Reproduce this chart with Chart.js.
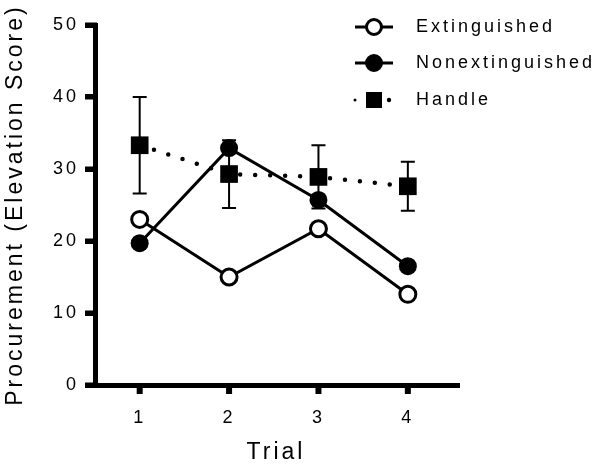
<!DOCTYPE html>
<html>
<head>
<meta charset="utf-8">
<script src="https://cdn.jsdelivr.net/npm/chart.js@4.4.0/dist/chart.umd.min.js"></script>
<style>
  html, body { margin: 0; padding: 0; background: #fff; }
  #wrap { width: 604px; height: 468px; }
</style>
</head>
<body>
<div id="wrap"><canvas id="chart" width="604" height="468"></canvas></div>
<script>
const trials = [1, 2, 3, 4];
const seriesNames = ["Extinguished", "Nonextinguished", "Handle"];
const extinguished = [23.0, 15.0, 21.7, 12.6];
const nonextinguished = [19.7, 32.9, 25.7, 16.5];
const handle = [33.3, 29.3, 28.9, 27.6];
const handleErr = [6.7, 4.7, 4.4, 3.4];
const yTicks = [0, 10, 20, 30, 40, 50];

const FONT = "'Liberation Sans', Arial, sans-serif";

// canvas letter spacing, the original text is spread out
const spacing = {
    id: 'spacing',
    beforeUpdate(chart) { chart.ctx.letterSpacing = '3px'; },
    beforeDraw(chart) { chart.ctx.letterSpacing = '3px'; }
};

// heavy tick marks like the original (grid ticks come out thin)
const tickMarks = {
    id: 'tickMarks',
    afterDraw(chart) {
        const ctx = chart.ctx;
        const x = chart.scales.x, y = chart.scales.y;
        const area = chart.chartArea;
        ctx.save();
        ctx.fillStyle = '#000';
        yTicks.forEach(v => {
            const py = y.getPixelForValue(v);
            ctx.fillRect(area.left - 10, py - 2.5, 12, 5);
        });
        trials.forEach(v => {
            const px = x.getPixelForValue(v);
            ctx.fillRect(px - 3, area.bottom, 6, 9);
        });
        ctx.restore();
    }
};

const errorBars = {
    id: 'errorBars',
    afterDatasetsDraw(chart) {
        const ctx = chart.ctx;
        const x = chart.scales.x, y = chart.scales.y;
        ctx.save();
        ctx.strokeStyle = '#000';
        ctx.lineWidth = 2;
        trials.forEach((t, i) => {
            const px = x.getPixelForValue(t);
            const top = y.getPixelForValue(handle[i] + handleErr[i]);
            const bot = y.getPixelForValue(handle[i] - handleErr[i]);
            ctx.beginPath();
            ctx.moveTo(px, top); ctx.lineTo(px, bot);
            ctx.moveTo(px - 7, top); ctx.lineTo(px + 7, top);
            ctx.moveTo(px - 7, bot); ctx.lineTo(px + 7, bot);
            ctx.stroke();
        });
        ctx.restore();
    }
};

const legendBox = {
    id: 'legendBox',
    afterDraw(chart) {
        const ctx = chart.ctx;
        ctx.save();
        ctx.letterSpacing = '3px';
        ctx.font = '18px ' + FONT;
        ctx.fillStyle = '#000';
        ctx.strokeStyle = '#000';
        ctx.textBaseline = 'middle';
        const rows = [27, 63, 100];
        seriesNames.forEach((name, i) => {
            const yy = rows[i];
            if (i < 2) {
                ctx.lineWidth = 3;
                ctx.beginPath(); ctx.moveTo(355, yy); ctx.lineTo(393, yy); ctx.stroke();
                ctx.beginPath(); ctx.arc(374, yy, 7.5, 0, Math.PI * 2);
                ctx.fillStyle = i === 0 ? '#fff' : '#000';
                ctx.fill(); ctx.stroke();
                ctx.fillStyle = '#000';
            } else {
                ctx.beginPath(); ctx.arc(355, yy, 1.5, 0, Math.PI * 2); ctx.fill();
                ctx.beginPath(); ctx.arc(389, yy, 2.2, 0, Math.PI * 2); ctx.fill();
                ctx.fillRect(366, yy - 8, 16, 16);
            }
            ctx.fillText(name, 416, yy);
        });
        ctx.restore();
    }
};

new Chart(document.getElementById('chart'), {
    type: 'line',
    data: {
        datasets: [
            {
                label: seriesNames[0],
                data: trials.map((t, i) => ({ x: t, y: extinguished[i] })),
                borderColor: '#000',
                borderWidth: 3,
                pointStyle: 'circle',
                pointRadius: 8,
                pointBorderWidth: 3,
                pointBackgroundColor: '#fff',
                pointBorderColor: '#000',
                tension: 0,
                order: 1
            },
            {
                label: seriesNames[1],
                data: trials.map((t, i) => ({ x: t, y: nonextinguished[i] })),
                borderColor: '#000',
                borderWidth: 3,
                pointStyle: 'circle',
                pointRadius: 9,
                pointBorderWidth: 0,
                pointBackgroundColor: '#000',
                tension: 0,
                order: 2
            },
            {
                label: seriesNames[2],
                data: trials.map((t, i) => ({ x: t, y: handle[i] })),
                borderColor: '#000',
                borderWidth: 4.5,
                borderDash: [0, 15],
                borderCapStyle: 'round',
                pointStyle: 'rect',
                pointRadius: 12.5,
                pointBorderWidth: 0,
                pointBackgroundColor: '#000',
                tension: 0,
                order: 3
            }
        ]
    },
    options: {
        responsive: false,
        animation: false,
        devicePixelRatio: 1,
        layout: { padding: { top: 25, right: 147, left: 0, bottom: 0 } },
        plugins: {
            legend: { display: false },
            tooltip: { enabled: false }
        },
        scales: {
            x: {
                type: 'linear',
                min: 0.5,
                max: 4.55,
                afterBuildTicks: s => { s.ticks = trials.map(v => ({ value: v })); },
                afterFit: s => { s.height = 83; },
                border: { display: true, color: '#000', width: 5 },
                grid: { display: true, drawOnChartArea: false, drawTicks: true, tickLength: 9, lineWidth: 5, tickWidth: 5, tickColor: '#000', color: '#000' },
                ticks: { color: '#000', padding: 13, font: { family: FONT, size: 18 } },
                title: { display: true, text: 'Trial', color: '#000', padding: { top: 0, bottom: 2 }, font: { family: FONT, size: 23 } }
            },
            y: {
                min: 0,
                max: 50,
                afterBuildTicks: s => { s.ticks = yTicks.map(v => ({ value: v })); },
                afterFit: s => { s.width = 95; },
                border: { display: true, color: '#000', width: 5 },
                grid: { display: true, drawOnChartArea: false, drawTicks: true, tickLength: 10, lineWidth: 5, tickWidth: 5, tickColor: '#000', color: '#000' },
                ticks: { color: '#000', padding: 6, font: { family: FONT, size: 18 } },
                title: { display: true, text: 'Procurement (Elevation Score)', color: '#000', padding: { top: 2, bottom: 0 }, font: { family: FONT, size: 23 } }
            }
        }
    },
    plugins: [spacing, tickMarks, errorBars, legendBox]
});
</script>
</body>
</html>
